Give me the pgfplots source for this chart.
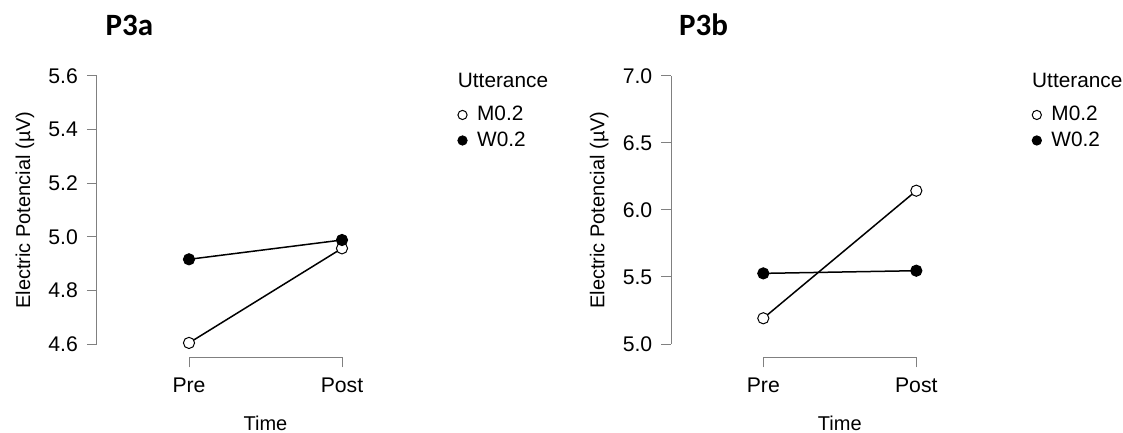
\documentclass[border=0pt]{standalone}
\usepackage{fontspec}
\setmainfont{Liberation Sans}
\newfontfamily\titlefont{Carlito}
\usepackage{pgfplots}
\pgfplotsset{compat=1.18}
\definecolor{axgray}{RGB}{128,128,128}
\pgfplotsset{
  rstyle/.style={
    scale only axis, width=76.5pt, height=134pt,
    clip=false,
    xmin=0, xmax=1,
    axis x line*=bottom, axis y line*=left,
    axis x line shift=6.65pt, axis y line shift=46pt,
    axis line style={axgray, line width=0.5pt},
    every tick/.style={axgray, line width=0.5pt},
    tick align=outside, major tick length=5pt,
    xtick={0,1}, xticklabels={Pre,Post},
    /pgf/number format/assume math mode=true,
    yticklabel style={/pgf/number format/fixed, /pgf/number format/fixed zerofill, /pgf/number format/precision=1, xshift=-1pt},
    xticklabel style={yshift=-1.8pt},
    tick label style={font=\fontsize{10.6}{12}\selectfont},
    label style={font=\fontsize{10.6}{12}\selectfont},
    xlabel={Time}, ylabel={Electric Potencial (µV)},
    every axis x label/.style={at={(axis description cs:0.5,-0.295)}, anchor=center},
    every axis y label/.style={at={(axis description cs:-1.072,0.5)}, anchor=center, rotate=90},
    every axis title shift=0pt,
    title style={at={(axis description cs:-0.39,1.19)}, anchor=center, font=\titlefont\bfseries\fontsize{15.5}{18}\selectfont},
    legend style={draw=none, fill=none, at={(axis description cs:1.755,0.90)}, anchor=north west, font=\fontsize{10.4}{12}\selectfont, row sep=1.0pt, inner sep=0pt, nodes={inner sep=1.5pt},
      /tikz/every odd column/.style={column sep=3.5pt}},
    legend cell align=left,
    legend image code/.code={\draw[#1, mark size=2.3pt] plot coordinates {(0.12cm,0cm)};},
  },
  mopen/.style={black, line width=0.75pt, mark=*, mark size=2.8pt, mark options={fill=white, draw=black, line width=0.5pt}},
  mfill/.style={black, line width=0.75pt, mark=*, mark size=2.8pt, mark options={fill=black, draw=black, line width=0.5pt}},
}
\begin{document}
\begin{tikzpicture}
\path[use as bounding box] (0,0) rectangle (561.5pt,216.5pt);
\begin{axis}[rstyle, at={(94.5pt,44.5pt)}, anchor=south west,
  ymin=4.6, ymax=5.6, ytick={4.6,4.8,5.0,5.2,5.4,5.6}, title={P3a}]
\addplot[mopen] coordinates {(0,4.604) (1,4.957)};
\addplot[mfill] coordinates {(0,4.916) (1,4.988)};
\legend{M0.2,W0.2}
\node[anchor=west, inner sep=0pt, font=\fontsize{10.4}{12}\selectfont] at (axis description cs:1.755,0.982) {Utterance};
\end{axis}
\begin{axis}[rstyle, at={(381.65pt,44.5pt)}, anchor=south west,
  ymin=5.0, ymax=7.0, ytick={5.0,5.5,6.0,6.5,7.0}, title={P3b}]
\addplot[mopen] coordinates {(0,5.192) (1,6.144)};
\addplot[mfill] coordinates {(0,5.527) (1,5.547)};
\legend{M0.2,W0.2}
\node[anchor=west, inner sep=0pt, font=\fontsize{10.4}{12}\selectfont] at (axis description cs:1.755,0.982) {Utterance};
\end{axis}
\end{tikzpicture}
\end{document}
